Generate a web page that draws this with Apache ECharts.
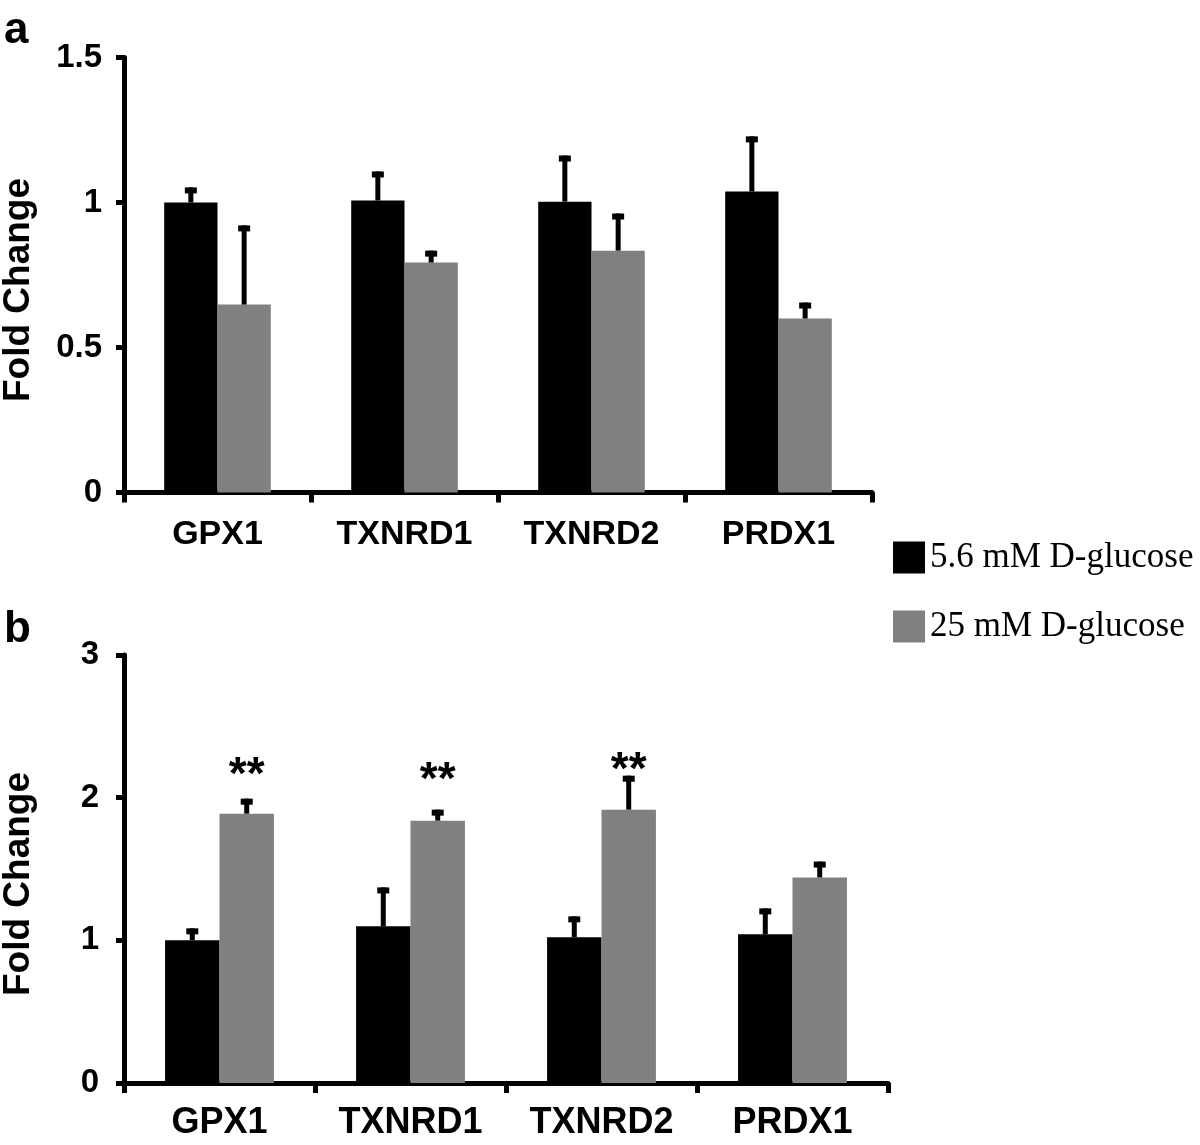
<!DOCTYPE html>
<html><head><meta charset="utf-8">
<script src="https://cdn.jsdelivr.net/npm/echarts@6/dist/echarts.min.js"></script>
<style>html,body{margin:0;padding:0;background:#fff}#c{width:1200px;height:1145px}</style>
</head><body><div id="c"></div>
<script>
const categories = ['GPX1', 'TXNRD1', 'TXNRD2', 'PRDX1'];
const seriesNames = ['5.6 mM D-glucose', '25 mM D-glucose'];
// Panel a: mean fold change and upper error (SD)
const aLow = [1.0, 1.007, 1.003, 1.038];
const aLowErr = [0.052, 0.100, 0.159, 0.190];
const aHigh = [0.648, 0.793, 0.834, 0.600];
const aHighErr = [0.273, 0.041, 0.128, 0.055];
// Panel b
const bLow = [1.0, 1.098, 1.021, 1.042];
const bLowErr = [0.084, 0.273, 0.147, 0.182];
const bHigh = [1.888, 1.839, 1.916, 1.441];
const bHighErr = [0.105, 0.077, 0.238, 0.111];
const bStars = ['**', '**', '**', ''];
const bStarLevel = [2.217, 2.182, 2.252, null];
// Axis ticks
const aTicks = [0, 0.5, 1, 1.5];
const bTicks = [0, 1, 2, 3];
const panelLabels = ['a', 'b'];
const yTitle = 'Fold Change';

const GAP = 0.43;
const FONT = '"Liberation Sans", Arial, sans-serif';

function errRenderer(side) {
  return function (params, api) {
    const i = api.value(0), mean = api.value(1), up = api.value(2);
    const band = api.size([1, 0])[0];
    const bw = band * (1 - GAP) / 2;
    const base = api.coord([i, mean]);
    const top = api.coord([i, up]);
    const cx = base[0] + side * bw / 2;
    return {
      type: 'group', children: [
        { type: 'rect', shape: { x: cx - 2.5, y: top[1], width: 5, height: base[1] - top[1] }, style: { fill: '#000' } },
        { type: 'rect', shape: { x: cx - 6, y: top[1], width: 12, height: 6 }, style: { fill: '#000' } }
      ]
    };
  };
}
function starRenderer(params, api) {
  const i = api.value(0), lvl = api.value(1);
  const band = api.size([1, 0])[0];
  const bw = band * (1 - GAP) / 2;
  const p = api.coord([i, lvl]);
  return {
    type: 'text', x: p[0] + bw / 2, y: p[1] + 10,
    style: { text: bStars[i], font: 'bold 46px ' + FONT, align: 'center', verticalAlign: 'middle', fill: '#000' }
  };
}
function errData(mean, err) { return categories.map((c, i) => [i, mean[i], mean[i] + err[i]]); }

function xAxisCfg(gi, fs, margin) {
  return {
    type: 'category', gridIndex: gi, data: categories,
    axisLine: { lineStyle: { color: '#000', width: 5 } },
    axisTick: { show: true, length: 10, lineStyle: { color: '#000', width: 5 } },
    axisLabel: { color: '#000', fontWeight: 'bold', fontSize: fs, fontFamily: FONT, margin: margin },
    splitLine: { show: false }
  };
}
function yAxisCfg(gi, ticks, margin) {
  return {
    type: 'value', gridIndex: gi, min: ticks[0], max: ticks[ticks.length - 1], interval: ticks[1] - ticks[0],
    axisLine: { show: true, lineStyle: { color: '#000', width: 5 } },
    axisTick: { show: true, length: 8, lineStyle: { color: '#000', width: 5 } },
    axisLabel: { color: '#000', fontWeight: 'bold', fontSize: 33, fontFamily: FONT, margin: margin },
    splitLine: { show: false }
  };
}
function barCfg(name, color, xi, data) {
  return { type: 'bar', name: name, xAxisIndex: xi, yAxisIndex: xi, data: data, barGap: '0%', barCategoryGap: (GAP * 100) + '%',
    itemStyle: { color: color }, emphasis: { disabled: true }, silent: true };
}
function errCfg(xi, side, mean, err) {
  return { type: 'custom', xAxisIndex: xi, yAxisIndex: xi, renderItem: errRenderer(side), data: errData(mean, err),
    encode: { x: 0, y: 1 }, z: 5, silent: true };
}

const chart = echarts.init(document.getElementById('c'), null, { renderer: 'canvas' });
chart.setOption({
  animation: false,
  backgroundColor: '#fff',
  grid: [
    { left: 124, top: 57.5, width: 748, height: 435 },
    { left: 124, top: 655, width: 764, height: 428 }
  ],
  xAxis: [xAxisCfg(0, 34, 25), xAxisCfg(1, 36, 22)],
  yAxis: [yAxisCfg(0, aTicks, 22), yAxisCfg(1, bTicks, 25)],
  legend: {
    orient: 'vertical', left: 893, top: 540, padding: 0, itemWidth: 32, itemHeight: 32, itemGap: 34, icon: 'rect',
    data: seriesNames, selectedMode: false,
    textStyle: { fontFamily: '"Liberation Serif", "Times New Roman", serif', fontSize: 35, color: '#000' }
  },
  series: [
    barCfg(seriesNames[0], '#000000', 0, aLow),
    barCfg(seriesNames[1], '#808080', 0, aHigh),
    errCfg(0, -1, aLow, aLowErr),
    errCfg(0, 1, aHigh, aHighErr),
    barCfg(seriesNames[0], '#000000', 1, bLow),
    barCfg(seriesNames[1], '#808080', 1, bHigh),
    errCfg(1, -1, bLow, bLowErr),
    errCfg(1, 1, bHigh, bHighErr),
    { type: 'custom', xAxisIndex: 1, yAxisIndex: 1, renderItem: starRenderer,
      data: categories.map((c, i) => [i, bStarLevel[i]]).filter(d => d[1] != null), encode: { x: 0, y: 1 }, z: 6, silent: true }
  ],
  graphic: [
    { type: 'text', x: 4, y: 31, style: { text: panelLabels[0], font: 'bold 44px ' + FONT, align: 'left', verticalAlign: 'middle', fill: '#000' } },
    { type: 'text', x: 4, y: 630, style: { text: panelLabels[1], font: 'bold 44px ' + FONT, align: 'left', verticalAlign: 'middle', fill: '#000' } },
    { type: 'text', x: 19, y: 290, rotation: Math.PI / 2, style: { text: yTitle, font: 'bold 37px ' + FONT, align: 'center', verticalAlign: 'middle', fill: '#000' } },
    { type: 'text', x: 19, y: 884, rotation: Math.PI / 2, style: { text: yTitle, font: 'bold 37px ' + FONT, align: 'center', verticalAlign: 'middle', fill: '#000' } }
  ]
});
</script></body></html>
